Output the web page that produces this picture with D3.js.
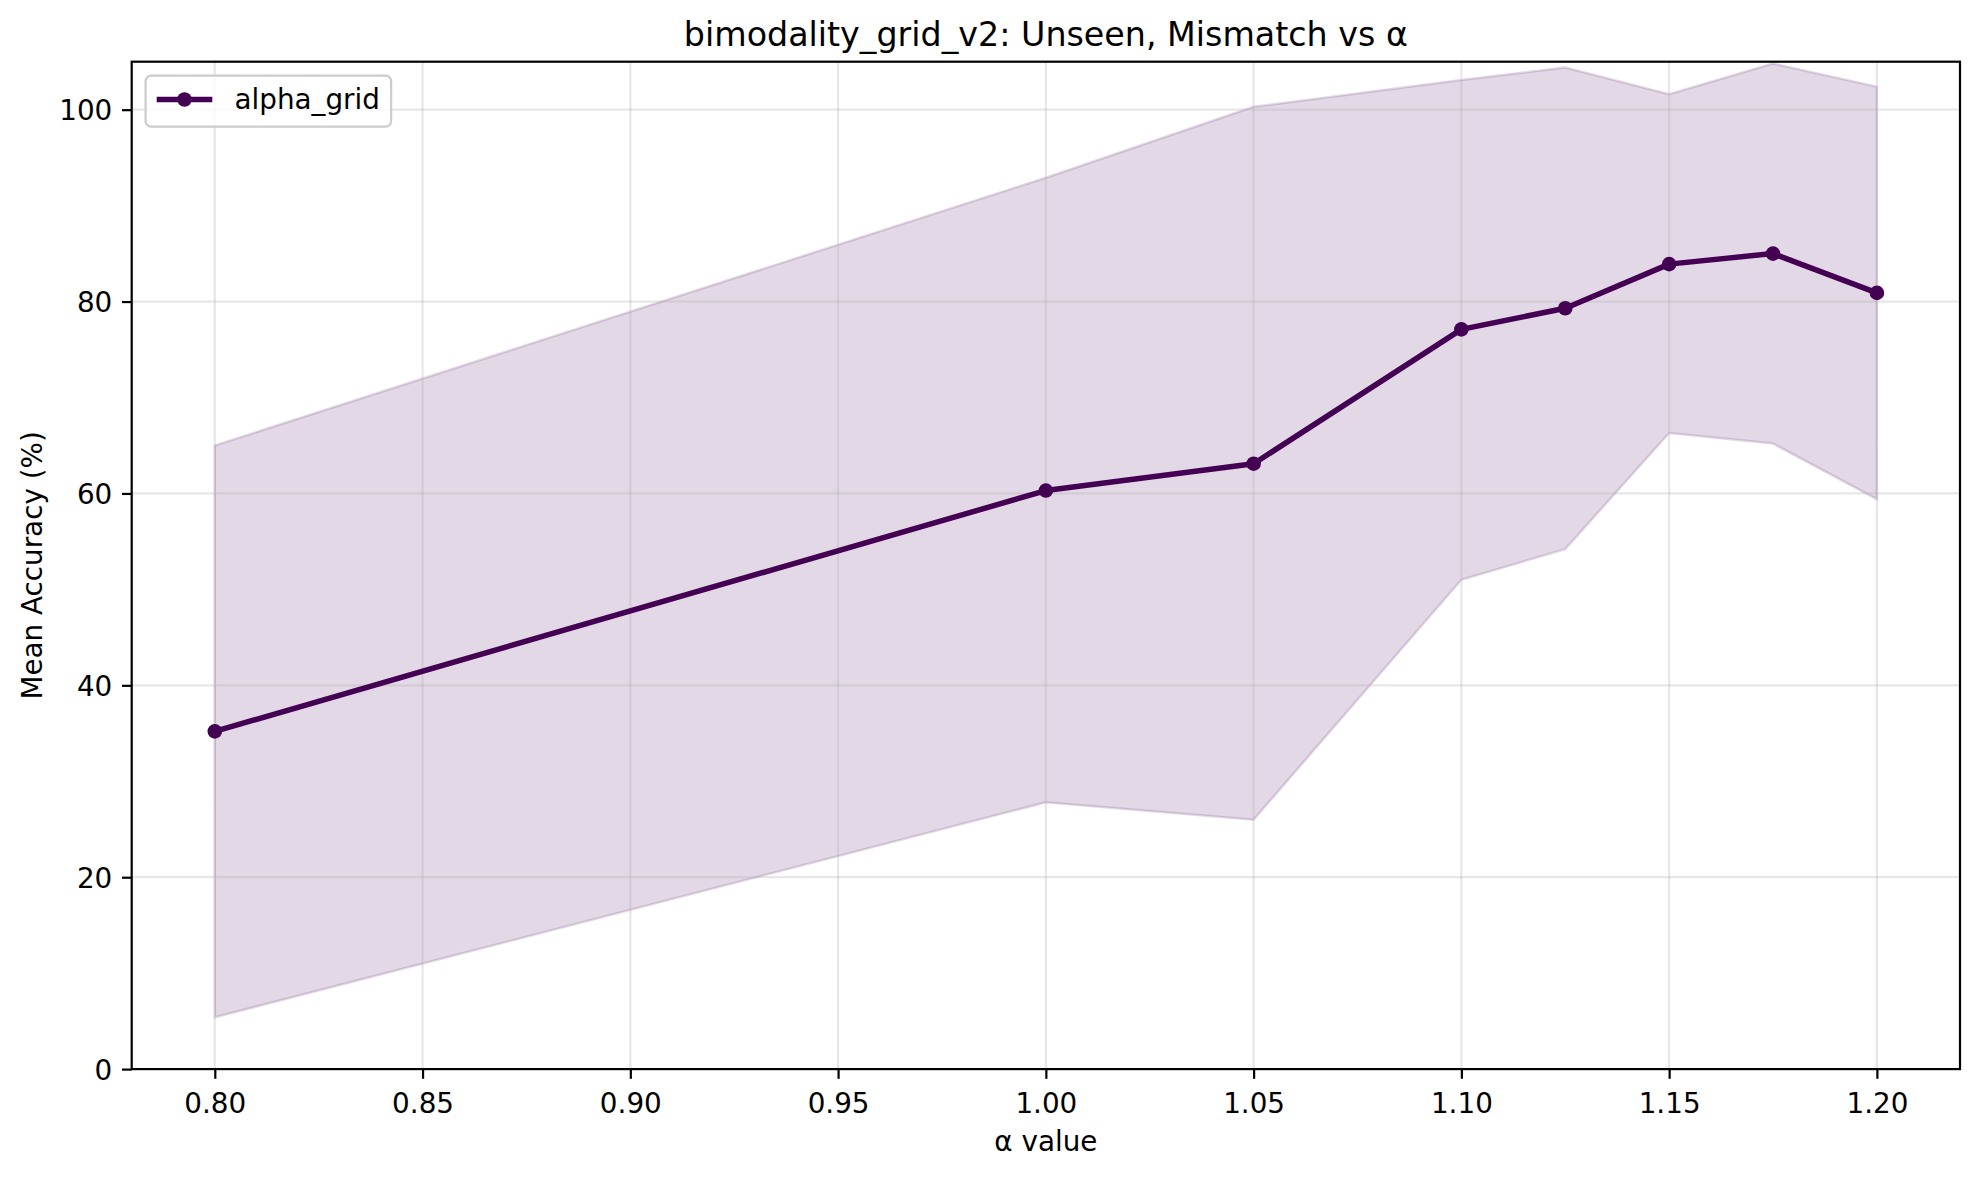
<!DOCTYPE html>
<html>
<head>
<meta charset="utf-8">
<script src="https://cdn.jsdelivr.net/npm/d3@7"></script>
<style>
  html, body { margin: 0; padding: 0; background: #ffffff; }
  svg { display: block; }
  text { font-family: "DejaVu Sans", sans-serif; fill: #000; }
</style>
</head>
<body>
<svg id="chart" width="1980" height="1177"></svg>
<script>
// ---- data ----
const alphas = [0.80, 1.00, 1.05, 1.10, 1.125, 1.15, 1.175, 1.20];
const meanAcc = [35.2, 60.3, 63.1, 77.1, 79.3, 83.9, 85.0, 80.9];
const upperAcc = [65.0, 92.9, 100.3, 103.1, 104.4, 101.6, 104.8, 102.4];
const lowerAcc = [5.4, 27.8, 26.0, 51.0, 54.2, 66.3, 65.2, 59.4];
const xTicks = [0.80, 0.85, 0.90, 0.95, 1.00, 1.05, 1.10, 1.15, 1.20];
const yTicks = [0, 20, 40, 60, 80, 100];
const seriesName = "alpha_grid";
const titleText = "bimodality_grid_v2: Unseen, Mismatch vs α";
const xLabel = "α value";
const yLabel = "Mean Accuracy (%)";

const color = "#440154";
const data = alphas.map((a, i) => ({ a, m: meanAcc[i], lo: lowerAcc[i], hi: upperAcc[i] }));

const L = 131.7, R = 1960, T = 61.7, B = 1069.1;
const x = d3.scaleLinear().domain([0.78, 1.22]).range([L, R]);
const y = d3.scaleLinear().domain([0, 105]).range([B, T]);

const svg = d3.select("#chart");
svg.append("rect").attr("width", 1980).attr("height", 1177).attr("fill", "#fff");

const clip = svg.append("defs").append("clipPath").attr("id", "clip");
clip.append("rect").attr("x", L).attr("y", T).attr("width", R - L).attr("height", B - T);

const plot = svg.append("g").attr("clip-path", "url(#clip)");

// band
const area = d3.area().x(d => x(d.a)).y0(d => y(d.lo)).y1(d => y(d.hi));
plot.append("path").datum(data).attr("d", area)
  .attr("fill", color).attr("fill-opacity", 0.15)
  .attr("stroke", color).attr("stroke-opacity", 0.15).attr("stroke-width", 2.5);

// grid
const grid = plot.append("g");
grid.selectAll(".gx").data(xTicks).enter().append("line")
  .attr("x1", d => x(d)).attr("x2", d => x(d)).attr("y1", T).attr("y2", B)
  .attr("stroke", "#b0b0b0").attr("stroke-opacity", 0.3).attr("stroke-width", 2.2);
grid.selectAll(".gy").data(yTicks).enter().append("line")
  .attr("x1", L).attr("x2", R).attr("y1", d => y(d)).attr("y2", d => y(d))
  .attr("stroke", "#b0b0b0").attr("stroke-opacity", 0.3).attr("stroke-width", 2.2);

// line
const line = d3.line().x(d => x(d.a)).y(d => y(d.m));
plot.append("path").datum(data).attr("d", line)
  .attr("fill", "none").attr("stroke", color).attr("stroke-width", 5.5)
  .attr("stroke-linejoin", "round").attr("stroke-linecap", "butt");
plot.selectAll(".pt").data(data).enter().append("circle")
  .attr("cx", d => x(d.a)).attr("cy", d => y(d.m)).attr("r", 7.3).attr("fill", color);

// axes
const xAxis = d3.axisBottom(x).tickValues(xTicks).tickFormat(d => d.toFixed(2))
  .tickSizeInner(9.7).tickSizeOuter(0).tickPadding(9.7);
const gx = svg.append("g").attr("transform", `translate(0,${B})`).call(xAxis);
const yAxis = d3.axisLeft(y).tickValues(yTicks).tickFormat(d3.format("d"))
  .tickSizeInner(9.7).tickSizeOuter(0).tickPadding(9.7);
const gy = svg.append("g").attr("transform", `translate(${L},0)`).call(yAxis);
[gx, gy].forEach(g => {
  g.select(".domain").remove();
  g.selectAll(".tick line").attr("stroke", "#000").attr("stroke-width", 2.2);
  g.selectAll(".tick text").attr("font-size", 27.8).attr("font-family", "DejaVu Sans").attr("fill", "#000");
});
gx.selectAll(".tick text").attr("dy", null).attr("y", 43.6);
gy.selectAll(".tick text").attr("dy", "0.36em");

// spines
svg.append("rect").attr("x", L).attr("y", T).attr("width", R - L).attr("height", B - T)
  .attr("fill", "none").attr("stroke", "#000").attr("stroke-width", 2.2);

// labels
svg.append("text").attr("x", (L + R) / 2).attr("y", 46).attr("text-anchor", "middle")
  .attr("font-size", 33.3).text(titleText);
svg.append("text").attr("x", (L + R) / 2).attr("y", 1151).attr("text-anchor", "middle")
  .attr("font-size", 27.8).text(xLabel);
svg.append("text").attr("transform", `translate(41.5,${(T + B) / 2}) rotate(-90)`)
  .attr("text-anchor", "middle").attr("font-size", 27.8).text(yLabel);

// legend
const lg = svg.append("g");
lg.append("rect").attr("x", 145.6).attr("y", 75.6).attr("width", 245.5).attr("height", 51)
  .attr("rx", 5.5).attr("ry", 5.5)
  .attr("fill", "#fff").attr("fill-opacity", 0.8)
  .attr("stroke", "#cccccc").attr("stroke-width", 2.2);
lg.append("line").attr("x1", 156.7).attr("x2", 212.3).attr("y1", 99.5).attr("y2", 99.5)
  .attr("stroke", color).attr("stroke-width", 5.5);
lg.append("circle").attr("cx", 184.5).attr("cy", 99.5).attr("r", 7.3).attr("fill", color);
lg.append("text").attr("x", 234.5).attr("y", 109.3).attr("font-size", 27.8).text(seriesName);
</script>
</body>
</html>
